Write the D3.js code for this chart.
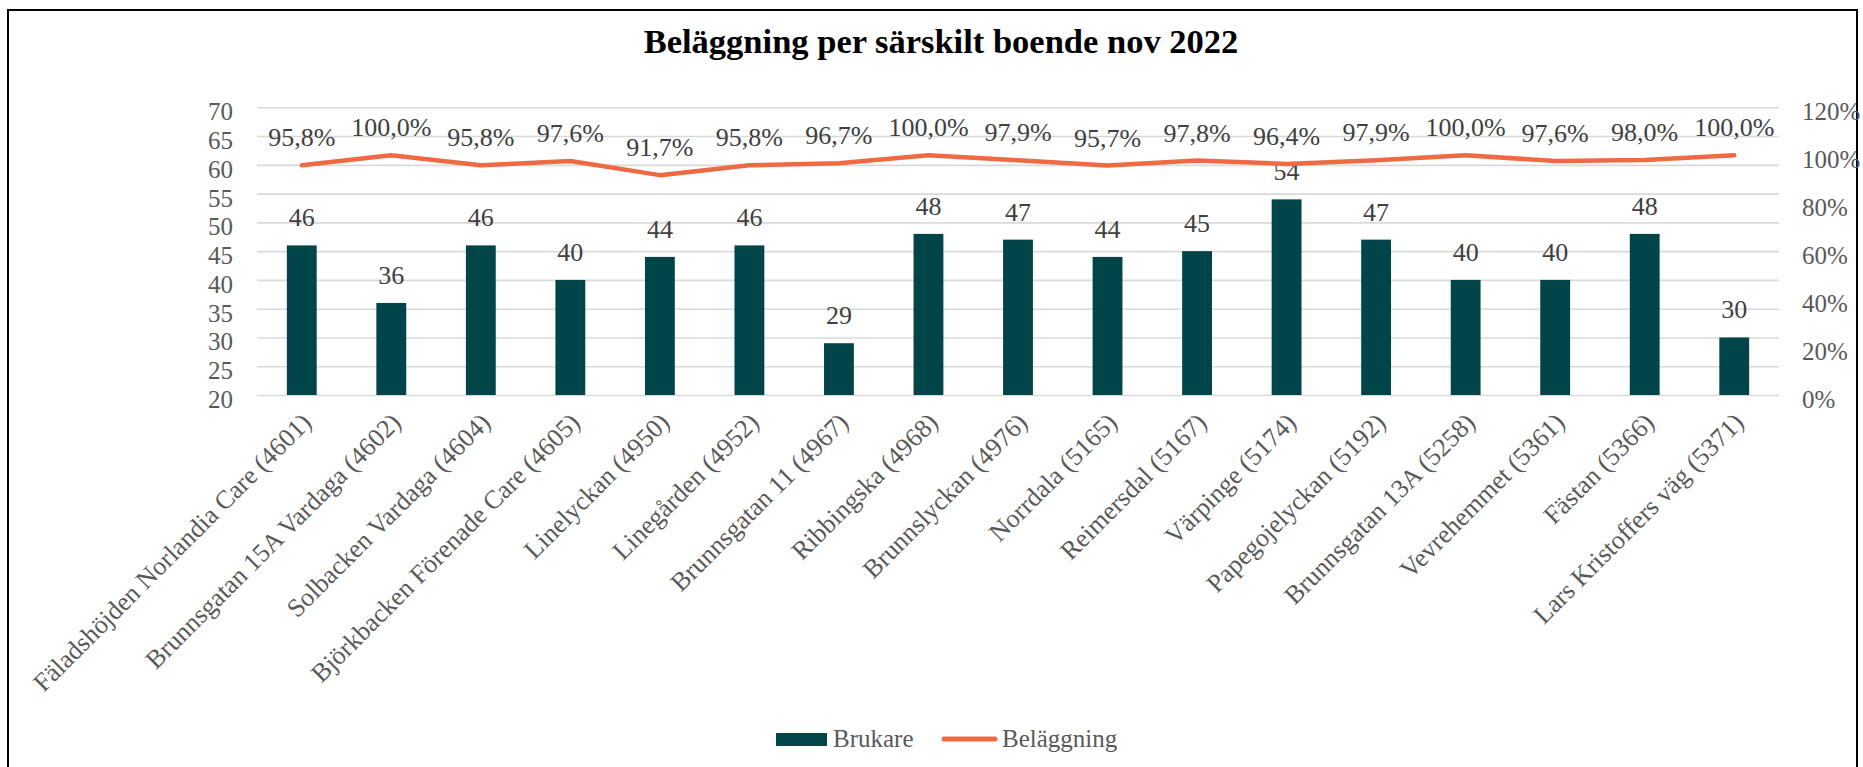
<!DOCTYPE html>
<html>
<head>
<meta charset="utf-8">
<script src="https://cdn.jsdelivr.net/npm/d3@7"></script>
<style>
  html, body { margin: 0; padding: 0; background: #fff; }
  svg { display: block; }
  text { font-family: "Liberation Serif", "Times New Roman", serif; }
</style>
</head>
<body>
<svg id="chart" width="1863" height="767"></svg>
<script>
const categories = [
  "Fäladshöjden Norlandia Care (4601)",
  "Brunnsgatan 15A Vardaga (4602)",
  "Solbacken Vardaga (4604)",
  "Björkbacken Förenade Care (4605)",
  "Linelyckan (4950)",
  "Linegården (4952)",
  "Brunnsgatan 11 (4967)",
  "Ribbingska (4968)",
  "Brunnslyckan (4976)",
  "Norrdala (5165)",
  "Reimersdal (5167)",
  "Värpinge (5174)",
  "Papegojelyckan (5192)",
  "Brunnsgatan 13A (5258)",
  "Vevrehemmet (5361)",
  "Fästan (5366)",
  "Lars Kristoffers väg (5371)"
];
const brukare = [46, 36, 46, 40, 44, 46, 29, 48, 47, 44, 45, 54, 47, 40, 40, 48, 30];
const belaggning = [0.958, 1.000, 0.958, 0.976, 0.917, 0.958, 0.967, 1.000, 0.979, 0.957, 0.978, 0.964, 0.979, 1.000, 0.976, 0.980, 1.000];
const leftTicks = [20, 25, 30, 35, 40, 45, 50, 55, 60, 65, 70];
const rightTicks = [0, 0.2, 0.4, 0.6, 0.8, 1.0, 1.2];
const title = "Beläggning per särskilt boende nov 2022";
const seriesNames = ["Brukare", "Beläggning"];

const barColor = "#014549";
const lineColor = "#ED6A43";
const axisText = "#595959";
const labelText = "#404040";

const svg = d3.select("#chart");

// outer border
svg.append("rect")
  .attr("x", 8).attr("y", 10).attr("width", 1849).attr("height", 800)
  .attr("fill", "none").attr("stroke", "#000").attr("stroke-width", 2);

const plotL = 257, plotR = 1779, plotT = 107.3, plotB = 395;

const x = d3.scaleBand().domain(categories).range([plotL, plotR])
  .paddingInner(2/3).paddingOuter(1/3);
const y = d3.scaleLinear().domain([20, 70]).range([plotB, plotT]);
const y2 = d3.scaleLinear().domain([0, 1.2]).range([plotB, plotT]);

// gridlines
const grid = svg.append("g").attr("transform", `translate(${plotL},0)`)
  .call(d3.axisLeft(y).tickValues(leftTicks).tickSize(-(plotR - plotL)).tickFormat(""));
grid.select(".domain").remove();
grid.selectAll("line").attr("stroke", "#d9d9d9").attr("stroke-width", 1.6);

// left axis labels
const ax = svg.append("g").attr("transform", `translate(233,0)`)
  .call(d3.axisLeft(y).tickValues(leftTicks).tickSize(0).tickPadding(0).tickFormat(d3.format("d")));
ax.select(".domain").remove();
ax.selectAll("text").attr("font-size", 25).attr("fill", axisText)
  .attr("font-family", "Liberation Serif").attr("dy", 12.5).attr("text-anchor", "end");

// right axis labels
const ax2 = svg.append("g").attr("transform", `translate(1802,0)`)
  .call(d3.axisRight(y2).tickValues(rightTicks).tickSize(0).tickPadding(0)
    .tickFormat(d => Math.round(d * 100) + "%"));
ax2.select(".domain").remove();
ax2.selectAll("text").attr("font-size", 25).attr("fill", axisText)
  .attr("font-family", "Liberation Serif").attr("dy", 12.5).attr("text-anchor", "start");

// bars
svg.append("g").selectAll("rect").data(categories).join("rect")
  .attr("x", d => x(d))
  .attr("y", (d, i) => y(brukare[i]))
  .attr("width", x.bandwidth())
  .attr("height", (d, i) => y(20) - y(brukare[i]))
  .attr("fill", barColor);

// bar labels
svg.append("g").selectAll("text").data(categories).join("text")
  .attr("x", d => x(d) + x.bandwidth() / 2)
  .attr("y", (d, i) => y(brukare[i]) - 19)
  .attr("text-anchor", "middle")
  .attr("font-size", 26).attr("fill", labelText)
  .text((d, i) => brukare[i]);

// line
const line = d3.line()
  .x((d, i) => x(categories[i]) + x.bandwidth() / 2)
  .y(d => y2(d));
svg.append("path").datum(belaggning)
  .attr("d", line)
  .attr("fill", "none").attr("stroke", lineColor).attr("stroke-width", 4.5)
  .attr("stroke-linecap", "round").attr("stroke-linejoin", "round");

// line labels
const pct = d => d3.format(".1f")(d * 100).replace(".", ",") + "%";
svg.append("g").selectAll("text").data(belaggning).join("text")
  .attr("x", (d, i) => x(categories[i]) + x.bandwidth() / 2)
  .attr("y", d => y2(d) - 19)
  .attr("text-anchor", "middle")
  .attr("font-size", 26).attr("fill", labelText)
  .text(d => pct(d));

// x labels
svg.append("g").selectAll("text").data(categories).join("text")
  .attr("transform", d => `translate(${x(d) + x.bandwidth() / 2 + 11},${plotB + 29}) rotate(-45)`)
  .attr("text-anchor", "end")
  .attr("font-size", 26).attr("fill", axisText)
  .text(d => d);

// title
svg.append("text")
  .attr("x", 941).attr("y", 53)
  .attr("text-anchor", "middle")
  .attr("font-size", 34.5).attr("font-weight", "bold").attr("fill", "#000")
  .text(title);

// legend
const lg = svg.append("g");
lg.append("rect").attr("x", 776).attr("y", 733).attr("width", 51).attr("height", 13).attr("fill", barColor);
lg.append("text").attr("x", 833).attr("y", 747).attr("font-size", 25).attr("fill", axisText).text(seriesNames[0]);
lg.append("line").attr("x1", 944).attr("x2", 995).attr("y1", 739).attr("y2", 739)
  .attr("stroke", lineColor).attr("stroke-width", 5).attr("stroke-linecap", "round");
lg.append("text").attr("x", 1002).attr("y", 747).attr("font-size", 25).attr("fill", axisText).text(seriesNames[1]);
</script>
</body>
</html>
